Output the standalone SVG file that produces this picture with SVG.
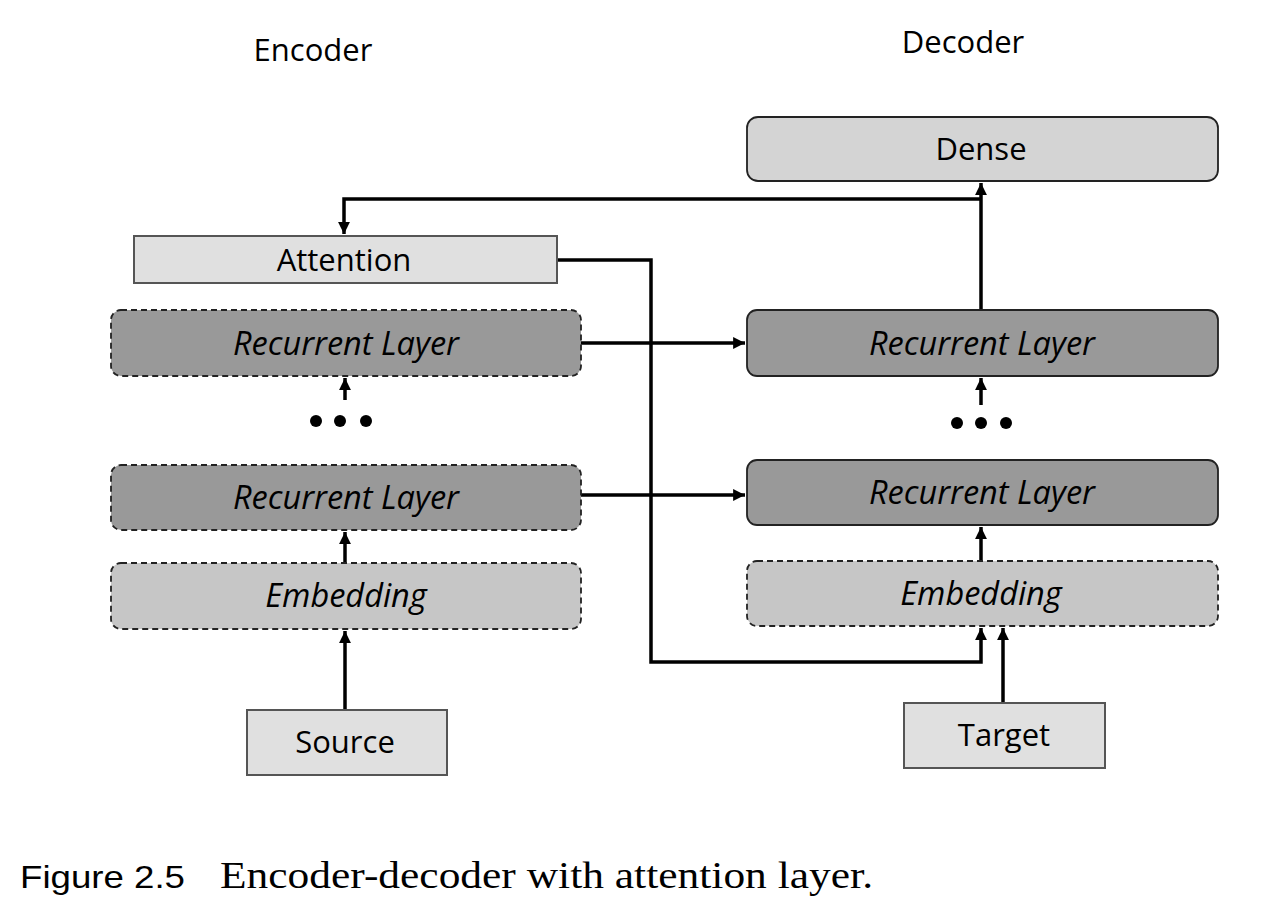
<svg xmlns="http://www.w3.org/2000/svg" width="1286" height="920" viewBox="0 0 1286 920">
<style>
.lbl{font-family:"Open Sans","Liberation Sans",sans-serif;font-size:31px;font-weight:500;fill:#000;text-anchor:middle;dominant-baseline:central}
.it{font-style:italic;font-size:32.5px}
.rec{fill:#999;stroke:#222;stroke-width:1.8}
.emb{fill:#c6c6c6;stroke:#222;stroke-width:1.8}
.dash{stroke-dasharray:6 4}
.light{fill:#e0e0e0;stroke:#555;stroke-width:2}
.conn{fill:none;stroke:#000;stroke-width:3.5}
</style>
<defs>
<marker id="ah" viewBox="0 0 10 10" refX="10" refY="5" markerWidth="3.4" markerHeight="3.4" orient="auto" markerUnits="strokeWidth">
<path d="M0,0 L10,5 L0,10 z" fill="#000"/>
</marker>
</defs>
<rect width="1286" height="920" fill="#fff"/>
<text class="lbl" x="313" y="49">Encoder</text>
<text class="lbl" x="963" y="41">Decoder</text>

<g id="connectors">
<path class="conn" d="M981,310 V183" marker-end="url(#ah)"/>
<path class="conn" d="M981,199 H344 V234" marker-end="url(#ah)"/>
<path class="conn" d="M557,260 H651 V662 H981 V628" marker-end="url(#ah)"/>
<path class="conn" d="M581,343 H745" marker-end="url(#ah)"/>
<path class="conn" d="M581,495 H745" marker-end="url(#ah)"/>
<path class="conn" d="M345,400 V378" marker-end="url(#ah)"/>
<path class="conn" d="M345,563 V532" marker-end="url(#ah)"/>
<path class="conn" d="M345,710 V631" marker-end="url(#ah)"/>
<path class="conn" d="M981,405 V378" marker-end="url(#ah)"/>
<path class="conn" d="M981,561 V527" marker-end="url(#ah)"/>
<path class="conn" d="M1003,703 V628" marker-end="url(#ah)"/>
</g>

<g id="dense"><rect x="747" y="117" width="471" height="64" rx="11" fill="#d4d4d4" stroke="#222" stroke-width="1.8"/><text class="lbl" x="981" y="148">Dense</text></g>
<g id="attention"><rect class="light" x="134" y="236" width="423" height="47"/><text class="lbl" x="344" y="259">Attention</text></g>

<g id="enc-rec-top"><rect class="rec dash" x="111" y="310" width="470" height="66" rx="10"/><text class="lbl it" x="346" y="342">Recurrent Layer</text></g>
<g id="enc-dots"><circle cx="316" cy="421" r="6"/><circle cx="340" cy="421" r="6"/><circle cx="366" cy="421" r="6"/></g>
<g id="enc-rec-bottom"><rect class="rec dash" x="111" y="465" width="470" height="65" rx="10"/><text class="lbl it" x="346" y="496">Recurrent Layer</text></g>
<g id="enc-emb"><rect class="emb dash" x="111" y="563" width="470" height="66" rx="10"/><text class="lbl it" x="346" y="594">Embedding</text></g>
<g id="source"><rect class="light" x="247" y="710" width="200" height="65" stroke="#333"/><text class="lbl" x="345" y="741">Source</text></g>

<g id="dec-rec-top"><rect class="rec" x="747" y="310" width="471" height="66" rx="10"/><text class="lbl it" x="982" y="342">Recurrent Layer</text></g>
<g id="dec-dots"><circle cx="957" cy="423" r="6"/><circle cx="981" cy="423" r="6"/><circle cx="1006" cy="423" r="6"/></g>
<g id="dec-rec-bottom"><rect class="rec" x="747" y="460" width="471" height="65" rx="10"/><text class="lbl it" x="982" y="491">Recurrent Layer</text></g>
<g id="dec-emb"><rect class="emb dash" x="747" y="561" width="471" height="65" rx="10"/><text class="lbl it" x="981" y="592">Embedding</text></g>
<g id="target"><rect class="light" x="904" y="703" width="201" height="65" stroke="#333"/><text class="lbl" x="1004" y="734">Target</text></g>

<text x="20" y="888" font-family="Liberation Sans, Arial, sans-serif" font-size="32" textLength="165" lengthAdjust="spacingAndGlyphs">Figure 2.5</text>
<text x="220" y="888" font-family="Liberation Serif, Times New Roman, serif" font-size="37" textLength="653" lengthAdjust="spacingAndGlyphs">Encoder-decoder with attention layer.</text>
</svg>
